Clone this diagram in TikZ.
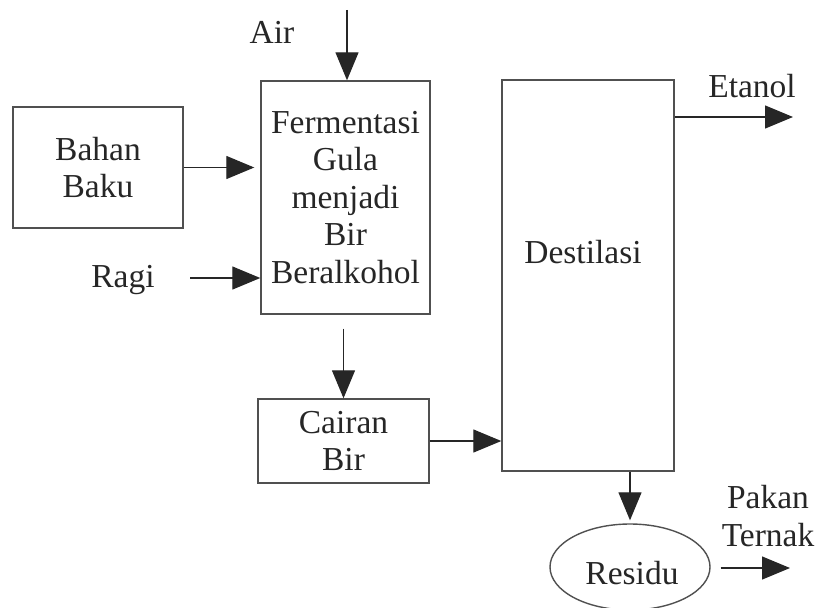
\documentclass[tikz,border=0pt]{standalone}
\usepackage{fontspec}
\setmainfont{Liberation Serif}
\usetikzlibrary{arrows.meta,shapes.geometric}
\definecolor{ink}{HTML}{262626}
\definecolor{boxline}{HTML}{505050}
\tikzset{
  box/.style={draw=boxline, line width=1.4pt, rectangle, align=center, inner sep=0pt},
  lbl/.style={align=center, inner sep=0pt},
  arr/.style={draw=ink, line width=1.3pt, -{Triangle[length=28pt,width=23pt]}},
}
\begin{document}
\begin{tikzpicture}[x=1pt,y=-1pt, font=\fontsize{33.5}{37.5}\selectfont, text=ink]
\useasboundingbox (0,0) rectangle (818,607);
\node[box, minimum width=170pt, minimum height=121pt] (bahan) at (98,167.5) {Bahan\\Baku};
\node[box, minimum width=169pt, minimum height=233pt] (ferm) at (345.5,197.5) {Fermentasi\\Gula\\menjadi\\Bir\\Beralkohol};
\node[box, minimum width=172pt, minimum height=391pt] (dest) at (588,275.5) {};
\node[lbl] (desttext) at (583,252) {Destilasi};
\node[box, minimum width=171pt, minimum height=84pt] (cairan) at (343.5,441) {Cairan\\Bir};
\node[draw=boxline, line width=1.4pt, ellipse, minimum width=160pt, minimum height=86pt, inner sep=0pt] (residu) at (630,567) {};
\node[lbl] (residutext) at (632,573) {Residu};
\node[lbl] (air) at (272,32) {Air};
\node[lbl] (ragi) at (123,280) {Ragi};
\node[lbl] (etanol) at (752,86) {Etanol};
\node[lbl] (pakan) at (768,516) {Pakan\\Ternak};
\coordinate (airS) at (347,10);
\coordinate (ragiS) at (190,278);
\coordinate (etE) at (793,117);
\coordinate (pkE) at (790,568);
\draw[arr] (airS) -- (airS |- ferm.north);
\draw[arr, shorten >=6pt] (bahan.east) -- (ferm.west |- bahan.east);
\draw[arr] (ragiS) -- (ferm.west |- ragiS);
\draw[arr, shorten <=14pt] (ferm.south -| cairan.north) -- (cairan.north);
\draw[arr] (cairan.east) -- (dest.west |- cairan.east);
\draw[arr] (etE -| dest.east) -- (etE);
\draw[arr, shorten >=3pt] (dest.south -| residu.north) -- (residu.north);
\draw[arr, shorten <=10pt] (residu.east |- pkE) -- (pkE);
\end{tikzpicture}
\end{document}
